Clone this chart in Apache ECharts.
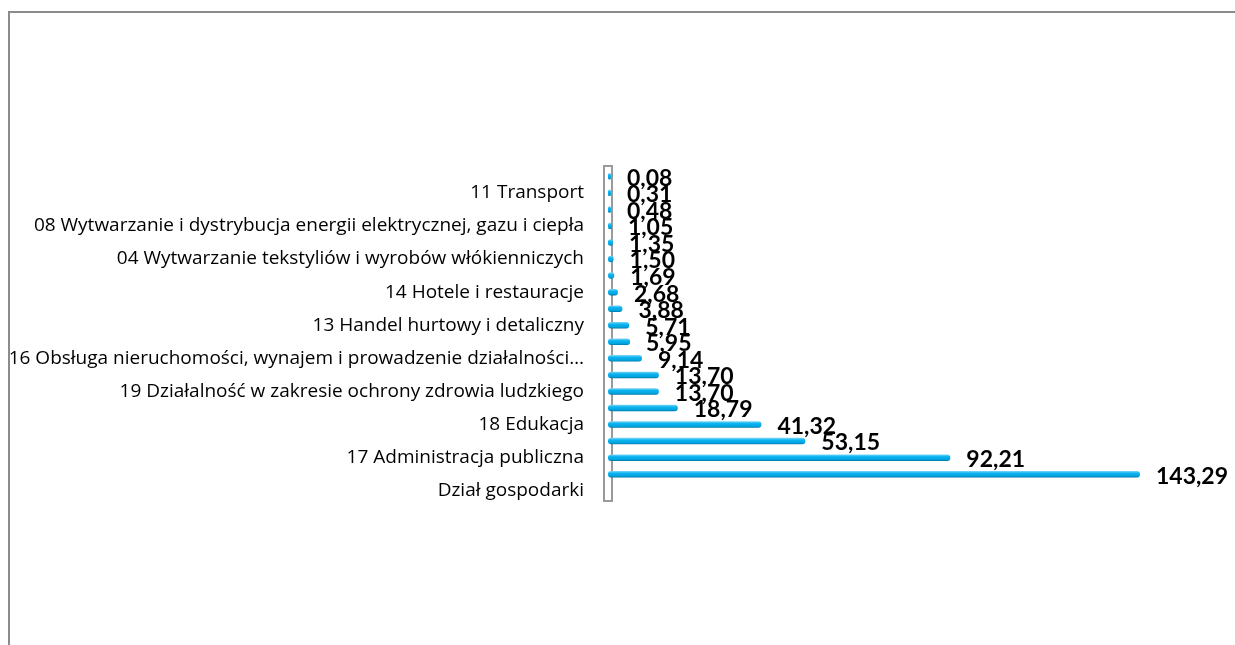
<!DOCTYPE html>
<html><head><meta charset="utf-8">
<script src="https://cdn.jsdelivr.net/npm/echarts@6/dist/echarts.min.js"></script>
<style>html,body{margin:0;padding:0;background:#fff}#c{width:1235px;height:645px}</style>
</head><body><div id="c"></div>
<script>
// Categories, bottom to top (hidden labels are unlabelled in the reference)
const categories = [
  'Dział gospodarki', '(1)',
  '17 Administracja publiczna', '(3)',
  '18 Edukacja', '(5)',
  '19 Działalność w zakresie ochrony zdrowia ludzkiego', '(7)',
  '16 Obsługa nieruchomości, wynajem i prowadzenie działalności…', '(9)',
  '13 Handel hurtowy i detaliczny', '(11)',
  '14 Hotele i restauracje', '(13)',
  '04 Wytwarzanie tekstyliów i wyrobów włókienniczych', '(15)',
  '08 Wytwarzanie i dystrybucja energii elektrycznej, gazu i ciepła', '(17)',
  '11 Transport', '(19)'
];
const values = [null, 143.29, 92.21, 53.15, 41.32, 18.79, 13.70, 13.70, 9.14, 5.95, 5.71,
  3.88, 2.68, 1.69, 1.50, 1.35, 1.05, 0.48, 0.31, 0.08];

const chart = echarts.init(document.getElementById('c'));
const gridLeft = 608, gridTop = 168, gridBottom = 146;
chart.setOption({
  animation: false,
  grid: { left: gridLeft, right: 33, top: gridTop, bottom: gridBottom, containLabel: false },
  xAxis: { type: 'value', min: 0, max: 160, show: false },
  yAxis: {
    type: 'category', data: categories,
    axisLine: { show: false }, axisTick: { show: false },
    axisLabel: {
      interval: 1, margin: 24, color: '#000',
      fontFamily: '"Open Sans", sans-serif', fontSize: 19
    }
  },
  graphic: [
    { type: 'rect', left: 6.5, top: 9.5, shape: { width: 1250, height: 660 },
      style: { fill: 'none', stroke: '#8c8c8c', lineWidth: 2 } },
    { type: 'rect', left: 603, top: gridTop - 3, shape: { width: 8, height: 645 - gridTop - gridBottom + 4 },
      style: { fill: '#fff', stroke: '#9a9a9a', lineWidth: 2 }, z: 0 }
  ],
  series: [{
    type: 'bar', data: values, barWidth: 6.5, barMinHeight: 3, z: 5,
    itemStyle: {
      borderRadius: 3,
      color: new echarts.graphic.LinearGradient(0, 0, 0, 1, [
        { offset: 0, color: '#7fd8f7' },
        { offset: 0.35, color: '#0cb4f0' },
        { offset: 0.8, color: '#00a2dd' },
        { offset: 1, color: '#0074a3' }
      ])
    },
    label: {
      show: true, position: 'right', distance: 16, offset: [0, 2],
      color: '#000', fontWeight: 'bold', fontSize: 23,
      fontFamily: 'Lato, "Open Sans", sans-serif',
      formatter: p => p.value == null ? '' : p.value.toFixed(2).replace('.', ',')
    }
  }]
});
</script></body></html>
